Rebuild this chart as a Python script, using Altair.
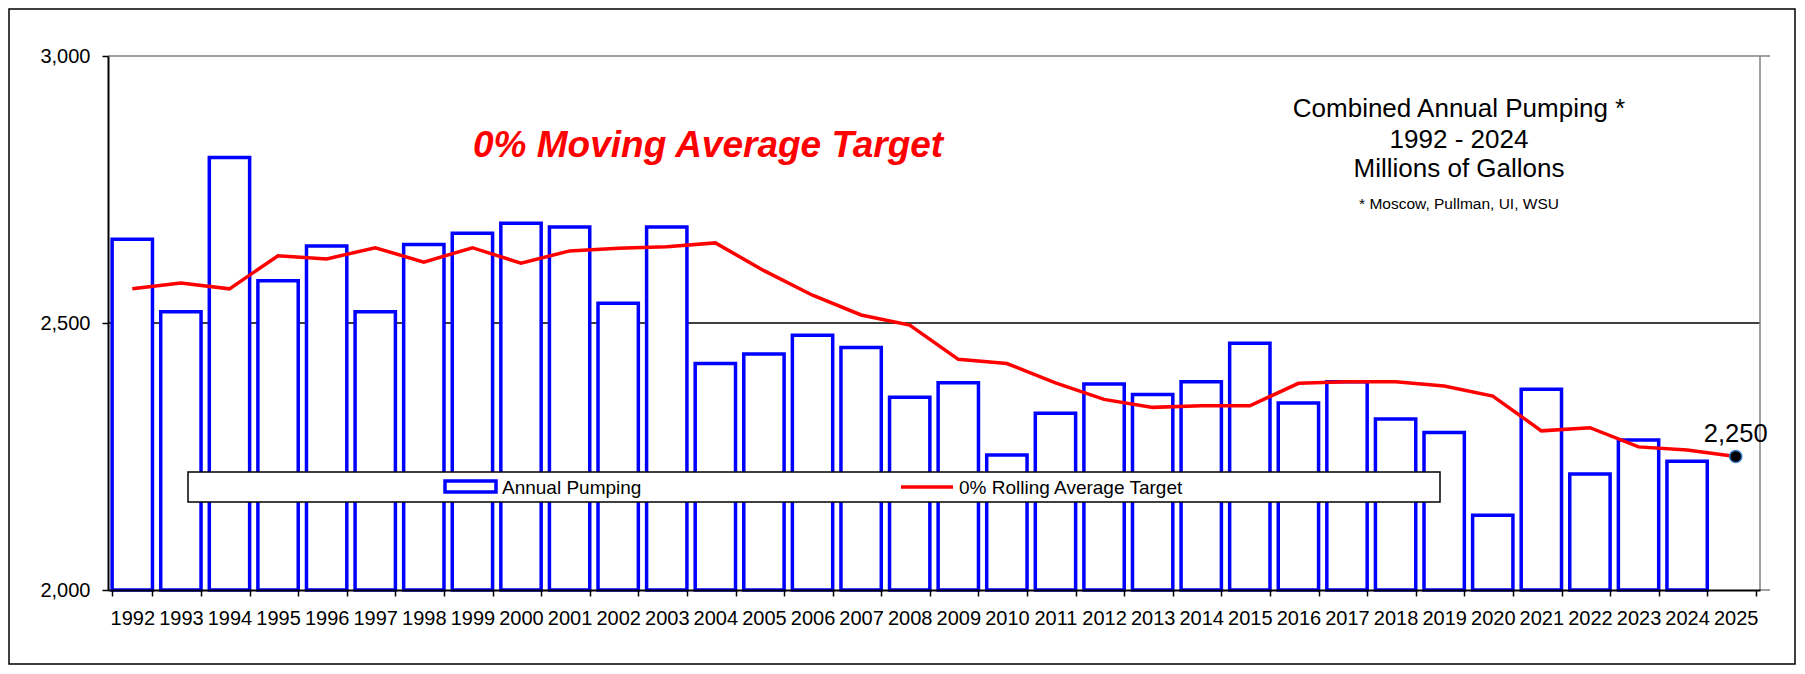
import altair as alt
import pandas as pd

# ---------------- data ----------------
years = ["1992", "1993", "1994", "1995", "1996", "1997", "1998", "1999", "2000",
         "2001", "2002", "2003", "2004", "2005", "2006", "2007", "2008", "2009",
         "2010", "2011", "2012", "2013", "2014", "2015", "2016", "2017", "2018",
         "2019", "2020", "2021", "2022", "2023", "2024", "2025"]
annual_pumping = [2657, 2521, 2810, 2579, 2644, 2521, 2647, 2668, 2687, 2680,
                  2537, 2680, 2424, 2442, 2477, 2454, 2361, 2388, 2253, 2331,
                  2386, 2366, 2390, 2462, 2350, 2390, 2320, 2295, 2140, 2376,
                  2217, 2281, 2241]
rolling_target = [2564, 2575, 2564, 2626, 2620, 2641, 2614, 2641, 2612, 2635,
                  2640, 2643, 2650, 2598, 2552, 2515, 2496, 2432, 2424, 2388,
                  2357, 2342, 2345, 2345, 2387, 2390, 2390, 2382, 2363, 2298,
                  2304, 2268, 2262, 2250]
last_year = ["2025"]
last_value = [2250]
y_ticks = [2000, 2500, 3000]
grid_values = [2500]
base_value = 2000

bars_df = pd.DataFrame({"year": years[:len(annual_pumping)], "value": annual_pumping})
line_df = pd.DataFrame({"year": years, "value": rolling_target})
pt_df = pd.DataFrame({"year": last_year, "value": last_value})
grid_df = pd.DataFrame({"value": grid_values})
one = pd.DataFrame({"a": [0]})

# ---------------- layout ----------------
W, H = 1652, 534
FONT = "Liberation Sans"
BLUE = "#0000FF"
RED = "#FF0000"

x_scale = alt.Scale(domain=years, paddingInner=0.17, paddingOuter=0.085)
y_scale = alt.Scale(domain=[2000, 3000], zero=False, nice=False)

x_axis = alt.Axis(title=None, labelAngle=0, labelFontSize=20, labelFont=FONT,
                  labelColor="black", tickBand="extent", tickSize=6,
                  tickColor="black", tickWidth=1.5, domainColor="black",
                  domainWidth=2, labelPadding=12, grid=False, zindex=1)
y_axis = alt.Axis(title=None, values=y_ticks, format=",.0f", labelFontSize=20,
                  labelFont=FONT, labelColor="black", tickSize=6,
                  tickColor="black", tickWidth=1.5, domainColor="black",
                  domainWidth=2, labelPadding=12, grid=False, zindex=1)

x_enc = alt.X("year:O", scale=x_scale, axis=x_axis)
y_enc = alt.Y("value:Q", scale=y_scale, axis=y_axis)

grid = alt.Chart(grid_df).mark_rule(color="black", strokeWidth=1.5).encode(y=y_enc)

bars = alt.Chart(bars_df).mark_bar(fill="white", stroke=BLUE, strokeWidth=3.5).encode(
    x=x_enc, y=y_enc, y2=alt.datum(base_value))

line = alt.Chart(line_df).mark_line(color=RED, strokeWidth=3.5).encode(x=x_enc, y=y_enc)

point = alt.Chart(pt_df).mark_circle(size=150, color="black", opacity=1,
                                     stroke="#3d7fc8", strokeWidth=1.5).encode(x=x_enc, y=y_enc)
pt_label = alt.Chart(pt_df).mark_text(dy=-15, baseline="alphabetic", fontSize=25.5,
                                      font=FONT, color="black").encode(
    x=x_enc, y=y_enc, text=alt.Text("value:Q", format=",.0f"))

# frame lines (top and right gray)
top_line = alt.Chart(one).mark_rule(color="#808080", strokeWidth=1.5).encode(
    x=alt.value(0), x2=alt.value(W + 10), y=alt.value(0))
right_line = alt.Chart(one).mark_rule(color="#808080", strokeWidth=1.5).encode(
    x=alt.value(W), y=alt.value(0), y2=alt.value(H))
bottom_ext = alt.Chart(one).mark_rule(color="#808080", strokeWidth=1.5).encode(
    x=alt.value(W), x2=alt.value(W + 10), y=alt.value(H))

# legend
leg_box = alt.Chart(one).mark_rect(fill="white", stroke="black", strokeWidth=1.5).encode(
    x=alt.value(80), x2=alt.value(1332), y=alt.value(416), y2=alt.value(446))
leg_bar = alt.Chart(one).mark_rect(fill="white", stroke=BLUE, strokeWidth=3.5).encode(
    x=alt.value(337), x2=alt.value(388), y=alt.value(425), y2=alt.value(436))
leg_line = alt.Chart(one).mark_rule(color=RED, strokeWidth=3.5).encode(
    x=alt.value(793), x2=alt.value(845), y=alt.value(431))
leg_t1 = alt.Chart(one).mark_text(align="left", baseline="alphabetic", fontSize=19,
                                  font=FONT, color="black", text="Annual Pumping").encode(
    x=alt.value(394), y=alt.value(438))
leg_t2 = alt.Chart(one).mark_text(align="left", baseline="alphabetic", fontSize=19,
                                  font=FONT, color="black", text="0% Rolling Average Target").encode(
    x=alt.value(851), y=alt.value(438))

# titles
red_title = alt.Chart(one).mark_text(align="left", baseline="alphabetic", fontSize=37,
                                     font=FONT, fontWeight="bold", fontStyle="italic",
                                     color=RED, text="0% Moving Average Target").encode(
    x=alt.value(365), y=alt.value(101))
title_lines = [("Combined Annual Pumping *", 26, 61),
               ("1992 - 2024", 26, 92),
               ("Millions of Gallons", 26, 121),
               ("* Moscow, Pullman, UI, WSU", 15.5, 153)]
title_layers = [
    alt.Chart(one).mark_text(align="center", baseline="alphabetic", fontSize=fs,
                             font=FONT, color="black", text=t).encode(
        x=alt.value(1351), y=alt.value(yy))
    for t, fs, yy in title_lines
]

# outer border
border = alt.Chart(one).mark_rect(fillOpacity=0, stroke="black", strokeWidth=1.5).encode(
    x=alt.value(-99), x2=alt.value(1687), y=alt.value(-47), y2=alt.value(608))

chart = alt.layer(
    grid, bars, line, top_line, right_line, bottom_ext,
    leg_box, leg_bar, leg_line, leg_t1, leg_t2,
    point, pt_label, red_title, *title_layers, border
).properties(
    width=W, height=H,
    autosize=alt.AutoSizeParams(type="none"),
    padding={"left": 100, "top": 48, "right": 36, "bottom": 75},
).configure_view(stroke=None)

chart.save("out.html", embed_options={"renderer": "svg", "actions": False})
